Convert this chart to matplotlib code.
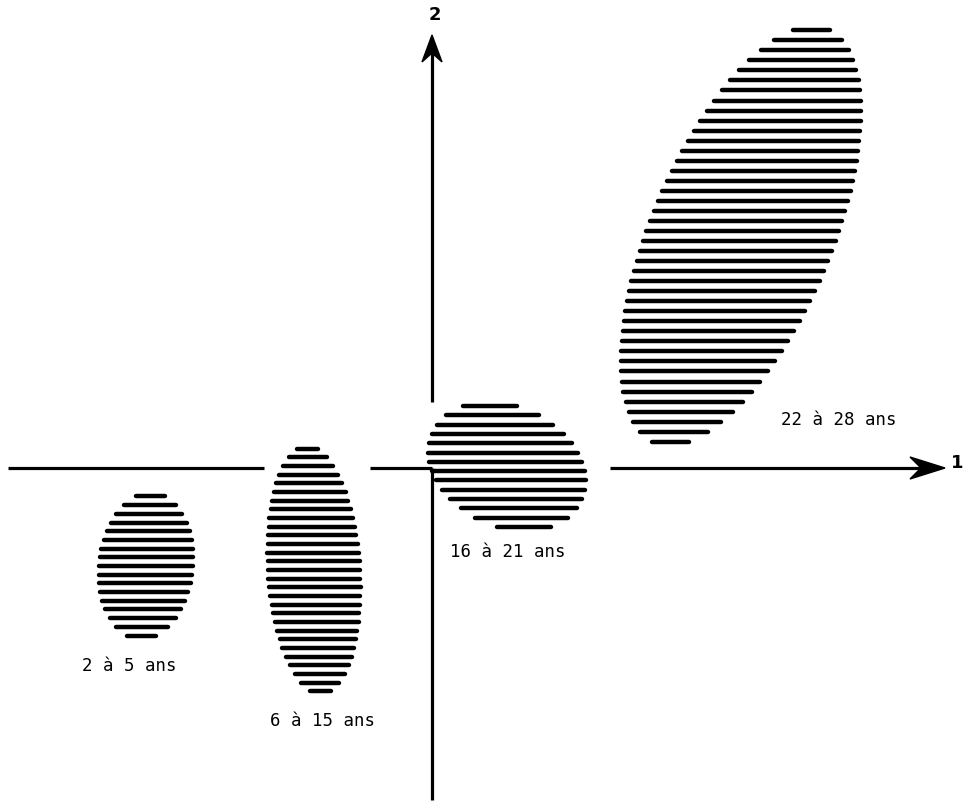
import matplotlib
matplotlib.use("Agg")
import matplotlib.pyplot as plt
from matplotlib.collections import LineCollection
from matplotlib.patches import Polygon
import numpy as np

# plan factoriel : axe 1 horizontal, axe 2 vertical (unite arbitraire)
groupes = ["2 à 5 ans", "6 à 15 ans", "16 à 21 ans", "22 à 28 ans"]
centre_x = [-2.86, -1.18, 0.75, 3.09]
centre_y = [-0.98, -1.02, 0.015, 2.32]
demi_grand = [0.743, 1.262, 0.84, 2.25]
demi_petit = [0.491, 0.48, 0.61, 0.92]
angle = [83.5, 93.6, -23, 67]
nb_traits = [17, 29, 14, 42]
etiquette_x = [-3.03, -1.09, 0.76, 4.07]
etiquette_y = [-1.98, -2.53, -0.84, 0.48]

# morceaux visibles des axes
axe1_morceaux = [(-4.24, -1.68), (-0.62, 0.0), (1.78, 4.95)]
axe2_morceaux = [(-3.32, 0.0), (0.66, 4.15)]


def traits_ellipse(cx, cy, a, b, ang, n):
	t = np.radians(ang)
	c, s = np.cos(t), np.sin(t)
	hy = np.sqrt(a * a * s * s + b * b * c * c)
	marge = 0.045
	ys = np.linspace(cy + hy - marge, cy - hy + marge, n)
	segs = []
	A = c * c / a ** 2 + s * s / b ** 2
	for y in ys:
		dy = y - cy
		B = 2 * dy * s * c * (1 / a ** 2 - 1 / b ** 2)
		C = dy * dy * (s * s / a ** 2 + c * c / b ** 2) - 1
		d = B * B - 4 * A * C
		if d <= 0:
			continue
		x1 = (-B - np.sqrt(d)) / (2 * A)
		x2 = (-B + np.sqrt(d)) / (2 * A)
		segs.append([(cx + x1 + 0.02, y), (cx + x2 - 0.02, y)])
	return segs


def pointe(ax, x, y, sens):
	# pointe de fleche a dos creuse
	L, W, N = 0.35, 0.11, 0.11
	if sens == "x":
		pts = [(x, y), (x - L, y + W), (x - L + N, y), (x - L, y - W)]
	else:
		L, W, N = 0.27, 0.10, 0.09
		pts = [(x, y), (x - W, y - L), (x, y - L + N), (x + W, y - L)]
	ax.add_patch(Polygon(pts, closed=True, color="black", zorder=3))


fig = plt.figure(figsize=(9.65, 8.05), dpi=100)
ax = fig.add_axes([0, 0, 1, 1])
ax.set_xlim(-4.32, 5.33)
ax.set_ylim(-3.37, 4.68)
ax.axis("off")

for a, b in axe1_morceaux:
	ax.plot([a, b], [0, 0], color="black", lw=2.3, solid_capstyle="butt")
for a, b in axe2_morceaux:
	ax.plot([0, 0], [a, b], color="black", lw=2.3, solid_capstyle="butt")
pointe(ax, 5.13, 0.0, "x")
pointe(ax, 0.0, 4.33, "y")
ax.text(5.25, 0.05, "1", fontsize=13, fontweight="bold", ha="center", va="center")
ax.text(0.03, 4.53, "2", fontsize=13, fontweight="bold", ha="center", va="center")

for i in range(len(groupes)):
	segs = traits_ellipse(centre_x[i], centre_y[i], demi_grand[i], demi_petit[i], angle[i], nb_traits[i])
	ax.add_collection(LineCollection(segs, colors="black", linewidths=3.2, capstyle="round", zorder=2))
	ax.text(etiquette_x[i], etiquette_y[i], groupes[i], fontsize=12.5, family="DejaVu Sans Mono",
		ha="center", va="center")

fig.savefig("out.png", dpi=100)
